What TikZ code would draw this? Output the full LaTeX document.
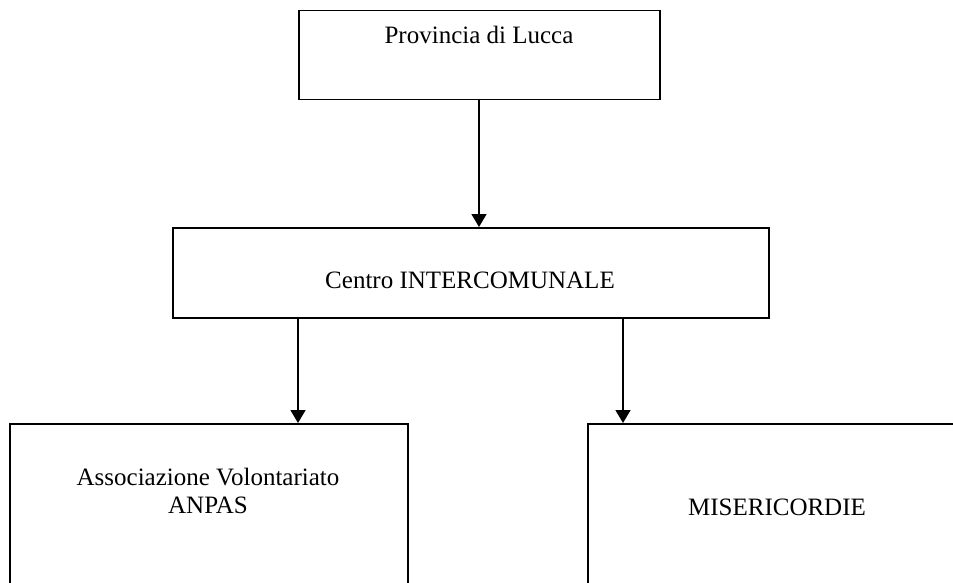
\documentclass[tikz,border=0pt]{standalone}
\usepackage{fontspec}
\setmainfont{Liberation Serif}
\usetikzlibrary{arrows.meta,positioning}

\begin{document}
\begin{tikzpicture}[x=0.5pt,y=-0.5pt,>={Triangle[length=6.5pt,width=7.5pt]},
				font=\fontsize{12.5}{14}\selectfont,
				box/.style={draw, line width=.75pt, inner sep=0pt, anchor=north west}
				,txt/.style={inner sep=0pt, anchor=base, align=center}
				]
				\useasboundingbox (0,0) rectangle (953,583);
				\clip (0,0) rectangle (953,583);
				
				\node[box, minimum width=180.5pt, minimum height=44.5pt] (prov) at (298,10) {};
				\node[box, minimum width=298pt, minimum height=45pt] (centro) at (172,227) {};
				\node[box, minimum width=199pt, minimum height=100pt] (anpas) at (9,423) {};
				\node[box, minimum width=189.5pt, minimum height=100pt] (miser) at (587,423) {};
				
				\node[txt] (provT) at (479,44) {Provincia di Lucca};
				\node[txt] (centroT) at (470,288) {Centro INTERCOMUNALE};
				\node[txt] (anpasT) at (208,513) {Associazione Volontariato\\ANPAS};
				\node[txt] (miserT) at (777,515) {MISERICORDIE};
				
				\coordinate (c1) at (479,0);
				\coordinate (c2) at (298,0);
				\coordinate (c3) at (623,0);
				
				\draw[->, line width=.75pt] (prov.south -| c1) -- (centro.north -| c1);
				\draw[->, line width=.75pt] (centro.south -| c2) -- (anpas.north -| c2);
				\draw[->, line width=.75pt] (centro.south -| c3) -- (miser.north -| c3);
			\end{tikzpicture}
\end{document}
